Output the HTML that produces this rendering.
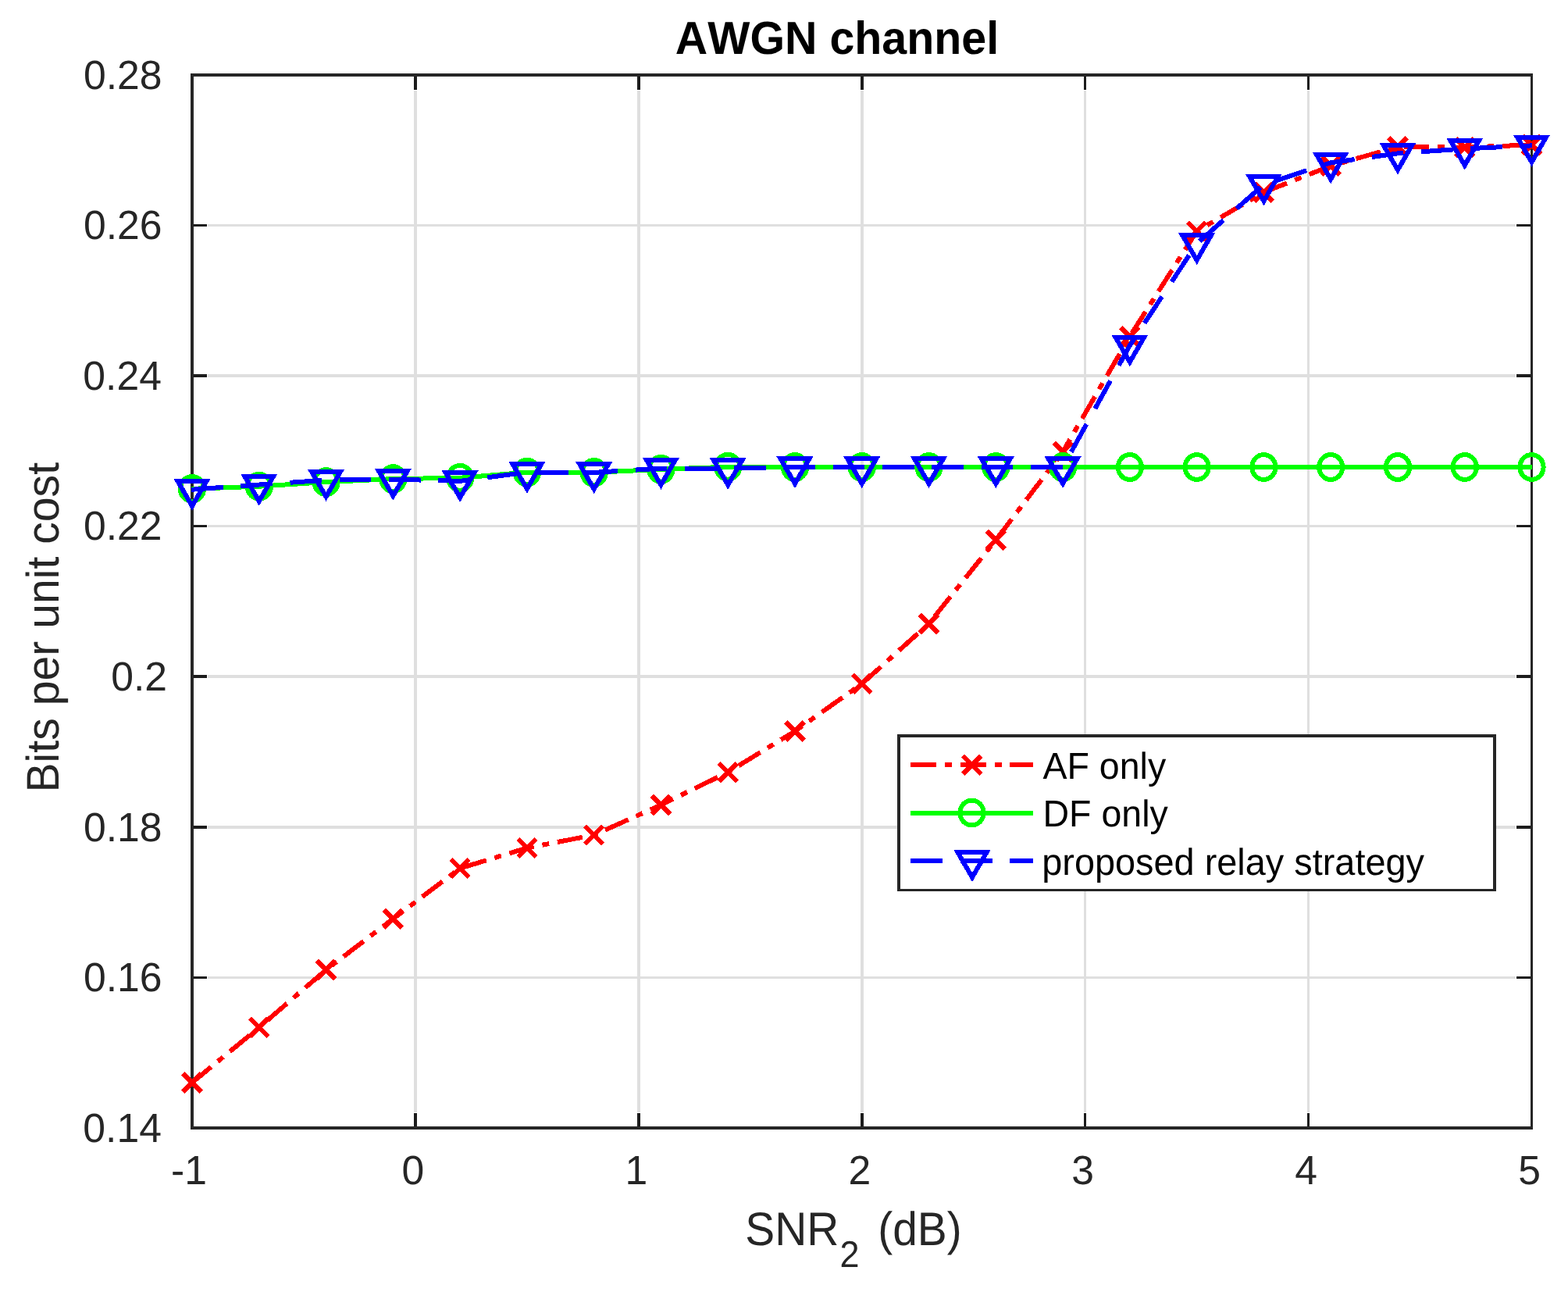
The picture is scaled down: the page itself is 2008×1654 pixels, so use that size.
<!DOCTYPE html>
<html lang="en">
<head>
<meta charset="utf-8">
<title>AWGN channel</title>
<style>
html,body{margin:0;padding:0;background:#fff;}
body{width:2008px;height:1654px;overflow:hidden;}
svg{display:block;}
text{font-family:"Liberation Sans",sans-serif;fill:#262626;font-kerning:none;text-rendering:geometricPrecision;white-space:pre;}
.tk{font-size:51.7px;}
.lb{font-size:56.85px;}
.tt{font-size:56.85px;font-weight:bold;fill:#000;}
.sb{font-size:45px;}
.lg{font-size:46.5px;fill:#000;}
.grid{fill:#dfdfdf;}
.ax{fill:#262626;}
.tick{fill:#1c1c1c;}
.r{stroke:#f00;stroke-width:6;fill:none;}
.g{stroke:#0f0;stroke-width:6;fill:none;}
.b{stroke:#00f;stroke-width:6;fill:none;stroke-miterlimit:10;}
</style>
</head>
<body>
<svg width="2008" height="1654" viewBox="0 0 2008 1654" role="img" aria-label="AWGN channel: bits per unit cost versus SNR2 (dB)">
<rect x="0" y="0" width="2008" height="1654" fill="#fff"/>
<!-- grid lines -->
<path class="grid" shape-rendering="crispEdges" d="M530 116H534V1424H530ZM816 116H820V1424H816ZM1102 116H1106V1424H1102ZM1388 116H1391V1424H1388ZM1674 116H1677V1424H1674ZM266 1250H1941V1253H266ZM266 1057H1941V1061H266ZM266 864H1941V868H266ZM266 672H1941V675H266ZM266 479H1941V483H266ZM266 287H1941V290H266Z"/>
<!-- axes box -->
<path class="ax" shape-rendering="crispEdges" d="M244 94H248V1446H244ZM1960 94H1963V1446H1960ZM244 94H1963V98H244ZM244 1442H1963V1446H244Z"/>
<!-- tick marks -->
<path class="tick" shape-rendering="crispEdges" d="M530 1425H534V1442H530ZM530 98H534V115H530ZM816 1425H820V1442H816ZM816 98H820V115H816ZM1102 1425H1106V1442H1102ZM1102 98H1106V115H1102ZM1388 1425H1391V1442H1388ZM1388 98H1391V115H1388ZM1674 1425H1677V1442H1674ZM1674 98H1677V115H1674ZM248 1250H265V1253H248ZM1942 1250H1960V1253H1942ZM248 1057H265V1061H248ZM1942 1057H1960V1061H1942ZM248 864H265V868H248ZM1942 864H1960V868H1942ZM248 672H265V675H248ZM1942 672H1960V675H1942ZM248 479H265V483H248ZM1942 479H1960V483H1942ZM248 287H265V290H248ZM1942 287H1960V290H1942Z"/>
<!-- tick labels -->
<g>
<text class="tk" transform="translate(206.9 1461.7) scale(1 1.012)" text-anchor="end">0.14</text>
<text class="tk" transform="translate(207.6 1269.14) scale(1 1.012)" text-anchor="end">0.16</text>
<text class="tk" transform="translate(207.6 1076.59) scale(1 1.012)" text-anchor="end">0.18</text>
<text class="tk" transform="translate(214 884.03) scale(1 1.012)" text-anchor="end">0.2</text>
<text class="tk" transform="translate(207.6 691.47) scale(1 1.012)" text-anchor="end">0.22</text>
<text class="tk" transform="translate(206.9 498.91) scale(1 1.012)" text-anchor="end">0.24</text>
<text class="tk" transform="translate(207.6 306.36) scale(1 1.012)" text-anchor="end">0.26</text>
<text class="tk" transform="translate(207.6 113.8) scale(1 1.012)" text-anchor="end">0.28</text>
<text class="tk" transform="translate(242 1515.9) scale(1 1.012)" text-anchor="middle">-1</text>
<text class="tk" transform="translate(528.92 1515.9) scale(1 1.012)" text-anchor="middle">0</text>
<text class="tk" transform="translate(814.83 1515.9) scale(1 1.012)" text-anchor="middle">1</text>
<text class="tk" transform="translate(1100.75 1515.9) scale(1 1.012)" text-anchor="middle">2</text>
<text class="tk" transform="translate(1386.67 1515.9) scale(1 1.012)" text-anchor="middle">3</text>
<text class="tk" transform="translate(1672.58 1515.9) scale(1 1.012)" text-anchor="middle">4</text>
<text class="tk" transform="translate(1958.5 1515.9) scale(1 1.012)" text-anchor="middle">5</text>
</g>
<!-- title and axis labels -->
<text class="tt" transform="translate(1072 68.8) scale(1.009 1.045)" text-anchor="middle">AWGN channel</text>
<text class="lb" transform="scale(1 1.06)"><tspan x="954.3" y="1503.58">SNR</tspan><tspan class="sb" x="1075.4" y="1530.09">2</tspan><tspan x="1108.5" y="1503.58"> (dB)</tspan></text>
<text class="lb" transform="translate(74.9 1014.5) rotate(-90) scale(1.0055 1.03)">Bits per unit cost</text>
<!-- AF only -->
<g class="r" shape-rendering="crispEdges">
<polyline stroke-dasharray="32.4 11 8.9 11" points="245.38,1386.41 331.78,1315.4 417.55,1241.55 503.32,1176.3 589.1,1111.6 674.88,1085.5 760.65,1069 846.43,1030.5 932.2,988.6 1017.97,936.1 1103.75,875.4 1189.52,798.4 1275.3,691.3 1361.08,578.3 1446.85,430.7 1532.62,296 1618.4,246.2 1704.17,212.4 1789.95,188 1875.73,188.6 1962.3,185.47"/>
<path d="M234.35 1374.25L257.65 1397.55M234.35 1397.55L257.65 1374.25M320.13 1303.75L343.43 1327.05M320.13 1327.05L343.43 1303.75M405.9 1229.9L429.2 1253.2M405.9 1253.2L429.2 1229.9M491.68 1164.65L514.98 1187.95M491.68 1187.95L514.98 1164.65M577.45 1099.95L600.75 1123.25M577.45 1123.25L600.75 1099.95M663.23 1073.85L686.52 1097.15M663.23 1097.15L686.52 1073.85M749 1057.35L772.3 1080.65M749 1080.65L772.3 1057.35M834.78 1018.85L858.08 1042.15M834.78 1042.15L858.08 1018.85M920.55 976.95L943.85 1000.25M920.55 1000.25L943.85 976.95M1006.32 924.45L1029.62 947.75M1006.32 947.75L1029.62 924.45M1092.1 863.75L1115.4 887.05M1092.1 887.05L1115.4 863.75M1177.87 786.75L1201.17 810.05M1177.87 810.05L1201.17 786.75M1263.65 679.65L1286.95 702.95M1263.65 702.95L1286.95 679.65M1349.42 566.65L1372.73 589.95M1349.42 589.95L1372.73 566.65M1435.2 419.05L1458.5 442.35M1435.2 442.35L1458.5 419.05M1520.97 284.35L1544.28 307.65M1520.97 307.65L1544.28 284.35M1606.75 234.55L1630.05 257.85M1606.75 257.85L1630.05 234.55M1692.52 200.75L1715.83 224.05M1692.52 224.05L1715.83 200.75M1778.3 176.35L1801.6 199.65M1778.3 199.65L1801.6 176.35M1864.08 176.95L1887.38 200.25M1864.08 200.25L1887.38 176.95M1949.85 173.85L1973.15 197.15M1949.85 197.15L1973.15 173.85"/>
</g>
<!-- DF only -->
<g class="g" shape-rendering="crispEdges">
<polyline points="245.2,625.83 331.78,622.7 417.55,617.1 503.32,613.1 589.1,611.8 674.88,604.6 760.65,604.9 846.43,600.8 932.2,597.7 1017.97,598 1103.75,598 1189.52,598 1275.3,598 1361.08,598 1446.85,598 1532.62,598 1618.4,598 1704.17,598 1789.95,598 1875.73,598 1962.3,598"/>
<ellipse cx="246" cy="625.8" rx="15.1" ry="15.9"/>
<ellipse cx="331.78" cy="622.7" rx="15.1" ry="15.9"/>
<ellipse cx="417.55" cy="617.1" rx="15.1" ry="15.9"/>
<ellipse cx="503.32" cy="613.1" rx="15.1" ry="15.9"/>
<ellipse cx="589.1" cy="611.8" rx="15.1" ry="15.9"/>
<ellipse cx="674.88" cy="604.6" rx="15.1" ry="15.9"/>
<ellipse cx="760.65" cy="604.9" rx="15.1" ry="15.9"/>
<ellipse cx="846.43" cy="600.8" rx="15.1" ry="15.9"/>
<ellipse cx="932.2" cy="597.7" rx="15.1" ry="15.9"/>
<ellipse cx="1017.97" cy="598" rx="15.1" ry="15.9"/>
<ellipse cx="1103.75" cy="598" rx="15.1" ry="15.9"/>
<ellipse cx="1189.52" cy="598" rx="15.1" ry="15.9"/>
<ellipse cx="1275.3" cy="598" rx="15.1" ry="15.9"/>
<ellipse cx="1361.08" cy="598" rx="15.1" ry="15.9"/>
<ellipse cx="1446.85" cy="598" rx="15.1" ry="15.9"/>
<ellipse cx="1532.62" cy="598" rx="15.1" ry="15.9"/>
<ellipse cx="1618.4" cy="598" rx="15.1" ry="15.9"/>
<ellipse cx="1704.17" cy="598" rx="15.1" ry="15.9"/>
<ellipse cx="1789.95" cy="598" rx="15.1" ry="15.9"/>
<ellipse cx="1875.73" cy="598" rx="15.1" ry="15.9"/>
<ellipse cx="1961.5" cy="598" rx="15.1" ry="15.9"/>
</g>
<!-- proposed relay strategy -->
<g class="b" shape-rendering="crispEdges">
<polyline stroke-dasharray="40.7 22.6" points="245.2,626.76 331.78,620.5 417.55,614.6 503.32,613.6 589.1,615.9 674.88,604.6 760.65,604.9 846.43,599.6 932.2,599.6 1017.97,598 1103.75,598 1189.52,598 1275.3,598 1361.08,598 1446.85,442.3 1532.62,311.9 1618.4,236.3 1704.17,208.3 1789.95,196.4 1875.73,190.4 1962.3,186.36"/>
<path d="M227.64 616.1L264.36 616.1L246 647.9ZM313.42 609.9L350.13 609.9L331.78 641.7ZM399.19 604L435.91 604L417.55 635.8ZM484.97 603L521.68 603L503.32 634.8ZM570.74 605.3L607.46 605.3L589.1 637.1ZM656.52 594L693.23 594L674.88 625.8ZM742.29 594.3L779.01 594.3L760.65 626.1ZM828.07 589L864.78 589L846.43 620.8ZM913.84 589L950.56 589L932.2 620.8ZM999.62 587.4L1036.33 587.4L1017.97 619.2ZM1085.39 587.4L1122.11 587.4L1103.75 619.2ZM1171.17 587.4L1207.88 587.4L1189.52 619.2ZM1256.94 587.4L1293.66 587.4L1275.3 619.2ZM1342.72 587.4L1379.43 587.4L1361.08 619.2ZM1428.49 431.7L1465.21 431.7L1446.85 463.5ZM1514.27 301.3L1550.98 301.3L1532.62 333.1ZM1600.04 225.7L1636.76 225.7L1618.4 257.5ZM1685.82 197.7L1722.53 197.7L1704.17 229.5ZM1771.59 185.8L1808.31 185.8L1789.95 217.6ZM1857.37 179.8L1894.08 179.8L1875.73 211.6ZM1943.14 175.8L1979.86 175.8L1961.5 207.6Z"/>
</g>
<!-- legend -->
<rect x="1149" y="940" width="767" height="201" fill="#fff" shape-rendering="crispEdges"/>
<path class="ax" shape-rendering="crispEdges" d="M1149 940H1153V1141H1149ZM1912 940H1916V1141H1912ZM1149 940H1916V944H1149ZM1149 1138H1916V1141H1149Z"/>
<g class="r" shape-rendering="crispEdges"><line stroke-dasharray="33 11 9 10.5" x1="1166" y1="979" x2="1323" y2="979"/><path d="M1233.15 967.75L1256.45 991.05M1233.15 991.05L1256.45 967.75"/></g>
<g class="g" shape-rendering="crispEdges"><line x1="1166" y1="1041" x2="1323" y2="1041"/><ellipse cx="1244.5" cy="1040.5" rx="15.1" ry="15.9"/></g>
<g class="b" shape-rendering="crispEdges"><line stroke-dasharray="41 22.5" x1="1166" y1="1102" x2="1323" y2="1102"/><path d="M1226.64 1091.4L1263.36 1091.4L1245 1123.2Z"/></g>
<text class="lg" transform="translate(1335.5 997) scale(1 1.03)">AF only</text>
<text class="lg" transform="translate(1335.5 1058.1) scale(1 1.03)">DF only</text>
<text class="lg" transform="translate(1334.2 1120.2) scale(1.008 1.03)">proposed relay strategy</text>
</svg>
</body>
</html>
